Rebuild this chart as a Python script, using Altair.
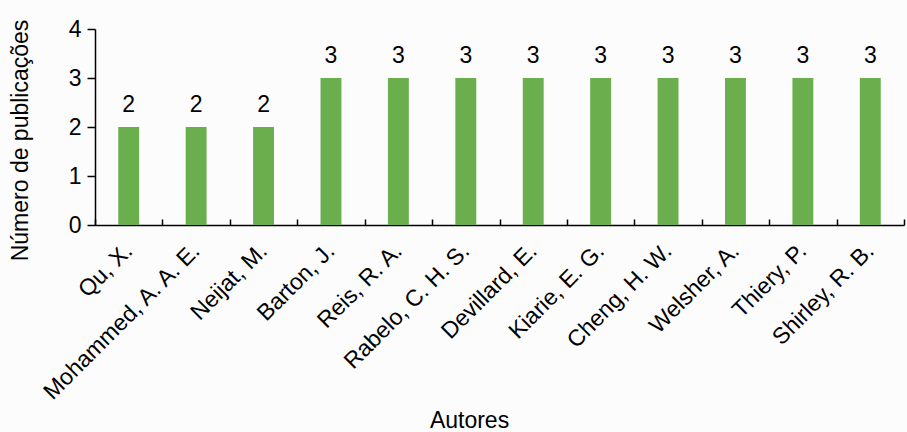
import altair as alt
import pandas as pd

# Authors and their publication counts
autores = [
    "Qu, X.",
    "Mohammed, A. A. E.",
    "Neijat, M.",
    "Barton, J.",
    "Reis, R. A.",
    "Rabelo, C. H. S.",
    "Devillard, E.",
    "Kiarie, E. G.",
    "Cheng, H. W.",
    "Welsher, A.",
    "Thiery, P.",
    "Shirley, R. B.",
]
publicacoes = [2, 2, 2, 3, 3, 3, 3, 3, 3, 3, 3, 3]
y_ticks = [0, 1, 2, 3, 4]

df = pd.DataFrame({"Autor": autores, "Publicacoes": publicacoes})

FONT = "Liberation Sans"
FS = 23
W, H = 809, 196

x_scale = alt.Scale(paddingInner=0, paddingOuter=0)
y_scale = alt.Scale(domain=[0, 4], nice=False)

base = alt.Chart(df)

bars = base.mark_bar(color="#6aae4e", width=alt.RelativeBandSize(0.31)).encode(
    x=alt.X(
        "Autor:N",
        sort=autores,
        scale=x_scale,
        axis=alt.Axis(
            orient="bottom",
            title="Autores",
            ticks=False,
            domainColor="black",
            domainWidth=1.5,
            labelAngle=-45,
            labelAlign="right",
            labelBaseline="middle",
            labelLimit=400,
            labelFont=FONT,
            labelFontSize=FS,
            labelColor="black",
            labelPadding=22,
            titleFont=FONT,
            titleFontSize=FS,
            titleFontWeight="normal",
            titleColor="black",
            titleX=374,
            titleY=202,
            titleAlign="center",
            titleBaseline="alphabetic",
        ),
    ),
    y=alt.Y(
        "Publicacoes:Q",
        scale=y_scale,
        axis=alt.Axis(
            values=y_ticks,
            grid=False,
            title="Número de publicações",
            domainColor="black",
            domainWidth=1.5,
            tickColor="black",
            tickSize=8,
            tickWidth=1.5,
            labelFont=FONT,
            labelFontSize=FS,
            labelColor="black",
            labelPadding=6,
            titleFont=FONT,
            titleFontSize=FS,
            titleFontWeight="normal",
            titleColor="black",
            titleAngle=-90,
            titleX=-75,
            titleY=111,
            titleAlign="center",
            titleBaseline="middle",
        ),
    ),
)

# Value labels; its hidden top axis is shifted onto the baseline to draw the inward category ticks
labels = base.mark_text(
    font=FONT, fontSize=FS, dy=-15, baseline="alphabetic", color="black"
).encode(
    x=alt.X(
        "Autor:N",
        sort=autores,
        scale=x_scale,
        axis=alt.Axis(
            orient="top",
            offset=-H,
            title="",
            labels=False,
            domain=False,
            ticks=True,
            tickBand="extent",
            tickSize=6,
            tickWidth=1.5,
            tickColor="black",
        ),
    ),
    y=alt.Y("Publicacoes:Q", scale=y_scale),
    text=alt.Text("Publicacoes:Q"),
)

chart = (
    alt.layer(bars, labels)
    .resolve_axis(x="independent")
    .properties(
        width=W,
        height=H,
        autosize=alt.AutoSizeParams(type="none"),
        padding={"left": 95, "top": 29, "right": 3, "bottom": 207},
        background="#fcfcfc",
    )
    .configure_view(stroke=None)
)

chart.save("out.html", embed_options={"renderer": "svg", "actions": False})
